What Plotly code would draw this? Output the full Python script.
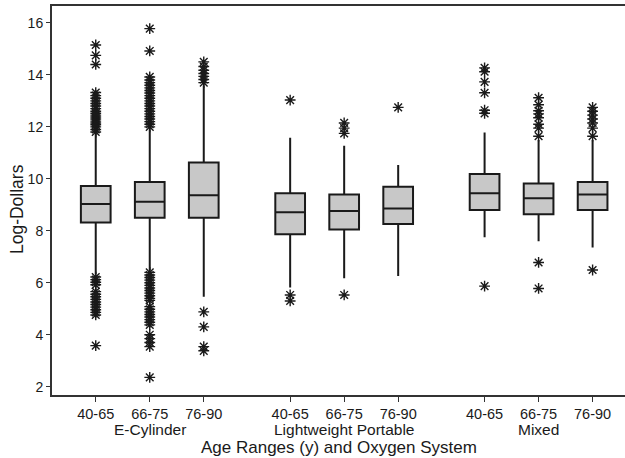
import plotly.graph_objects as go

# ---- data ----
systems = ["E-Cylinder", "Lightweight Portable", "Mixed"]
ages = ["40-65", "66-75", "76-90"]

q1 = [8.32, 8.50, 8.50, 7.87, 8.05, 8.26, 8.80, 8.64, 8.80]
median = [9.03, 9.12, 9.37, 8.71, 8.76, 8.86, 9.44, 9.25, 9.40]
q3 = [9.72, 9.88, 10.63, 9.44, 9.40, 9.69, 10.18, 9.82, 9.88]
lower_fence = [6.33, 6.49, 5.46, 5.82, 6.17, 6.26, 7.75, 7.60, 7.36]
upper_fence = [11.72, 11.90, 13.60, 11.58, 11.27, 10.53, 11.78, 11.49, 11.49]

outliers = [
    # E-Cylinder 40-65
    [11.80, 11.90, 12.00, 12.08, 12.15, 12.22, 12.30, 12.38, 12.45, 12.52, 12.60,
     12.70, 12.80, 12.90, 13.00, 13.10, 13.20, 13.32, 14.40, 14.75, 15.15,
     6.22, 6.12, 6.02, 5.92, 5.66, 5.56, 5.46, 5.36, 5.26, 5.16, 5.06, 4.96, 4.86, 4.76, 3.58],
    # E-Cylinder 66-75
    [12.00, 12.10, 12.20, 12.30, 12.40, 12.50, 12.60, 12.70, 12.80, 12.90, 13.00,
     13.10, 13.20, 13.30, 13.40, 13.50, 13.60, 13.70, 13.80, 13.92, 14.92, 15.78,
     6.40, 6.30, 6.20, 6.10, 6.00, 5.90, 5.80, 5.70, 5.60, 5.50, 5.40, 5.32,
     5.08, 4.98, 4.88, 4.78, 4.68, 4.58, 4.48, 4.38, 4.00, 3.85, 3.70, 3.54, 2.36],
    # E-Cylinder 76-90
    [13.70, 13.82, 13.94, 14.05, 14.18, 14.32, 14.50, 4.88, 4.30, 3.54, 3.38],
    # Lightweight Portable 40-65
    [13.03, 5.53, 5.30],
    # Lightweight Portable 66-75
    [11.75, 11.95, 12.15, 5.53],
    # Lightweight Portable 76-90
    [12.75],
    # Mixed 40-65
    [12.52, 12.64, 13.31, 13.73, 14.12, 14.27, 5.87],
    # Mixed 66-75
    [11.64, 11.95, 12.10, 12.35, 12.50, 12.62, 12.85, 13.12, 6.78, 5.78],
    # Mixed 76-90
    [11.64, 11.95, 12.15, 12.30, 12.45, 12.60, 12.75, 6.49],
]

y_ticks = [2, 4, 6, 8, 10, 12, 14, 16]
y_title = "Log-Dollars"
x_title = "Age Ranges (y) and Oxygen System"

# ---- layout helpers ----
GROUP_STEP = 3.6
positions = []
tick_text = []
for g in range(len(systems)):
    for a in range(len(ages)):
        positions.append(g * GROUP_STEP + a)
        tick_text.append(ages[a])

FONT = "Liberation Sans, Arial, sans-serif"
INK = "#1a1a1a"

fig = go.Figure()
for i, x in enumerate(positions):
    fig.add_trace(go.Box(
        x=[x], q1=[q1[i]], median=[median[i]], q3=[q3[i]],
        lowerfence=[lower_fence[i]], upperfence=[upper_fence[i]],
        boxpoints=False, width=0.55, whiskerwidth=0,
        fillcolor="#c8c8c8", line=dict(color=INK, width=2),
        showlegend=False, hoverinfo="skip",
    ))
    fig.add_trace(go.Scatter(
        x=[x] * len(outliers[i]), y=outliers[i], mode="markers",
        marker=dict(symbol="asterisk-open", size=9, color=INK,
                    line=dict(color=INK, width=1.4)),
        showlegend=False, hoverinfo="skip",
    ))

# group labels under the age tick labels
for g, name in enumerate(systems):
    fig.add_annotation(x=g * GROUP_STEP + 1, y=0, xref="x", yref="paper",
                       yshift=-34, text=name, showarrow=False, yanchor="middle",
                       font=dict(family=FONT, size=15.5, color=INK))

# x-axis title
fig.add_annotation(x=0.5, y=0, xref="paper", yref="paper", yshift=-52,
                   text=x_title, showarrow=False, yanchor="middle",
                   font=dict(family=FONT, size=17, color=INK))

# y-axis title
fig.add_annotation(x=0, y=0.478, xref="paper", yref="paper", xshift=-35,
                   text=y_title, showarrow=False, textangle=-90,
                   xanchor="center", yanchor="middle",
                   font=dict(family=FONT, size=17.5, color=INK))

fig.update_layout(
    width=625, height=458,
    margin=dict(l=52, r=0, t=6, b=63),
    plot_bgcolor="white", paper_bgcolor="white",
    font=dict(family=FONT, size=14, color=INK),
    xaxis=dict(range=[-0.81, 9.8], tickvals=positions, ticktext=tick_text,
               showgrid=False, zeroline=False, showline=True, mirror=True,
               linecolor="#333", linewidth=2, ticks="outside", ticklen=5,
               tickwidth=1.2, tickcolor="#333", automargin=False,
               tickfont=dict(family=FONT, size=14.5, color=INK)),
    yaxis=dict(range=[1.68, 16.65], tickvals=y_ticks, showgrid=False,
               zeroline=False, showline=True, linecolor="#333", linewidth=2,
               ticks="outside", ticklen=4, tickwidth=1.2, tickcolor="#333",
               automargin=False,
               tickfont=dict(family=FONT, size=14, color=INK)),
)

fig.write_html("out.html", config={"displayModeBar": False},
               post_script="document.body.style.margin='0';document.body.style.padding='0';")
